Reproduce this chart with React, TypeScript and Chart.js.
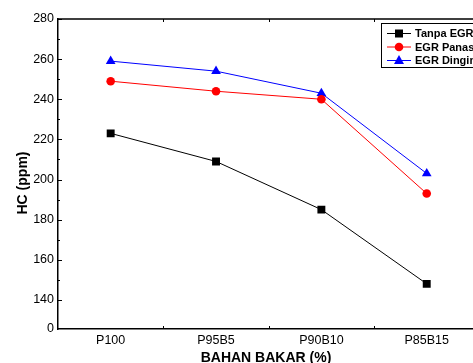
import React, { useEffect, useRef } from "react";
import { Chart, registerables } from "chart.js";

Chart.register(...registerables);

const categories = ["P100", "P95B5", "P90B10", "P85B15"];
const tanpaEGR = [223, 209, 185, 148];
const egrPanas = [249, 244, 240, 193];
const egrDingin = [259, 254, 243, 203];
const seriesLabels = ["Tanpa EGR", "EGR Panas", "EGR Dingin"];
const yTickValues = [140, 160, 180, 200, 220, 240, 260, 280];
const yBreakValue = 125.5; // axis start shown as "0" (broken axis)
const yBreakLabel = "0";
const yTitle = "HC (ppm)";
const xTitle = "BAHAN BAKAR (%)";

const FONT = "'Liberation Sans', Arial, Helvetica, sans-serif";

const framePlugin = {
  id: "framePlugin",
  afterDraw(chart: any) {
    const { ctx, chartArea } = chart;
    const { left, right, top, bottom } = chartArea;
    const y = chart.scales.y;
    const x = chart.scales.x;
    ctx.save();
    ctx.strokeStyle = "#000";
    ctx.lineWidth = 1.5;
    ctx.beginPath();
    ctx.moveTo(left, top);
    ctx.lineTo(right, top);
    ctx.lineTo(right, bottom);
    ctx.stroke();
    // inward ticks on y axis
    ctx.lineWidth = 1;
    ctx.beginPath();
    for (let v = 140; v <= 280; v += 10) {
      const py = Math.round(y.getPixelForValue(v)) + 0.5;
      const len = v % 20 === 0 ? 4 : 2;
      ctx.moveTo(left, py);
      ctx.lineTo(left + len, py);
      ctx.moveTo(right, py);
      ctx.lineTo(right - len, py);
    }
    // inward ticks on x axis at category boundaries
    for (let i = 0; i < categories.length - 1; i++) {
      const px = Math.round((x.getPixelForValue(i) + x.getPixelForValue(i + 1)) / 2) + 0.5;
      ctx.moveTo(px, bottom);
      ctx.lineTo(px, bottom - 3);
      ctx.moveTo(px, top);
      ctx.lineTo(px, top + 3);
    }
    ctx.stroke();

    // axis titles
    ctx.fillStyle = "#000";
    ctx.font = `bold 14px ${FONT}`;
    ctx.textAlign = "center";
    ctx.textBaseline = "middle";
    ctx.fillText(xTitle, 266, 358);
    ctx.save();
    ctx.translate(23.5, 183);
    ctx.rotate(-Math.PI / 2);
    ctx.fillText(yTitle, 0, 0);
    ctx.restore();

    // legend
    const bx = 381.5, by = 23.5, bw = 120, bh = 44;
    ctx.fillStyle = "#fff";
    ctx.fillRect(bx, by, bw, bh);
    ctx.strokeStyle = "#000";
    ctx.lineWidth = 1;
    ctx.strokeRect(bx, by, bw, bh);
    const rows = [33.5, 47, 60.5];
    chart.data.datasets.forEach((ds: any, i: number) => {
      const ry = rows[i];
      ctx.strokeStyle = ds.borderColor;
      ctx.fillStyle = ds.borderColor;
      ctx.lineWidth = 1;
      ctx.beginPath();
      ctx.moveTo(387, ry);
      ctx.lineTo(411, ry);
      ctx.stroke();
      const cx = 399;
      ctx.beginPath();
      if (ds.pointStyle === "rect") {
        ctx.rect(cx - 4, ry - 4, 8, 8);
      } else if (ds.pointStyle === "circle") {
        ctx.arc(cx, ry, 4.3, 0, Math.PI * 2);
      } else {
        ctx.moveTo(cx, ry - 5.5);
        ctx.lineTo(cx + 5, ry + 3.5);
        ctx.lineTo(cx - 5, ry + 3.5);
        ctx.closePath();
      }
      ctx.fill();
      ctx.fillStyle = "#000";
      ctx.font = `bold 11px ${FONT}`;
      ctx.textBaseline = "middle";
      ctx.textAlign = "left";
      ctx.fillText(ds.label, 415, ry + 0.5);
    });
    ctx.restore();
  },
};

export default function App() {
  const ref = useRef<HTMLCanvasElement | null>(null);
  useEffect(() => {
    if (!ref.current) return;
    const tickFont = { family: FONT, size: 12.5 };
    const chart = new Chart(ref.current, {
      type: "line",
      data: {
        labels: categories,
        datasets: [
          {
            label: seriesLabels[0],
            data: tanpaEGR,
            borderColor: "#000000",
            backgroundColor: "#000000",
            pointStyle: "rect",
            pointRadius: 5.6,
            borderWidth: 1,
            pointBorderWidth: 0,
          },
          {
            label: seriesLabels[1],
            data: egrPanas,
            borderColor: "#ff0000",
            backgroundColor: "#ff0000",
            pointStyle: "circle",
            pointRadius: 4.3,
            borderWidth: 1,
            pointBorderWidth: 0,
          },
          {
            label: seriesLabels[2],
            data: egrDingin,
            borderColor: "#0000ff",
            backgroundColor: "#0000ff",
            pointStyle: "triangle",
            pointRadius: 5.6,
            borderWidth: 1,
            pointBorderWidth: 0,
          },
        ],
      },
      options: {
        animation: false,
        responsive: false,
        maintainAspectRatio: false,
        layout: { padding: { top: 19, left: 0, right: 0, bottom: 0 } },
        plugins: { legend: { display: false }, tooltip: { enabled: false } },
        scales: {
          x: {
            type: "category",
            offset: true,
            grid: { display: false, drawTicks: false },
            border: { display: true, color: "#000", width: 1.5 },
            ticks: { font: tickFont, color: "#000", padding: 4, maxRotation: 0 },
            afterFit: (s: any) => {
              s.height = 34;
            },
          },
          y: {
            type: "linear",
            min: yBreakValue,
            max: 280,
            afterBuildTicks: (s: any) => {
              s.ticks = [yBreakValue, ...yTickValues].map((v) => ({ value: v }));
            },
            grid: { display: false, drawTicks: false },
            border: { display: true, color: "#000", width: 1.5 },
            ticks: {
              font: tickFont,
              color: "#000",
              padding: 4,
              autoSkip: false,
              callback: (v: any) => (v === yBreakValue ? yBreakLabel : String(v)),
            },
            afterFit: (s: any) => {
              s.width = 58;
            },
          },
        },
      },
      plugins: [framePlugin],
    });
    return () => chart.destroy();
  }, []);
  return (
    <div
      style={{
        position: "fixed",
        left: 0,
        top: 0,
        width: 473,
        height: 363,
        overflow: "hidden",
        background: "#fff",
      }}
    >
      <canvas ref={ref} width={485} height={363} style={{ display: "block", width: 485, height: 363 }} />
    </div>
  );
}
